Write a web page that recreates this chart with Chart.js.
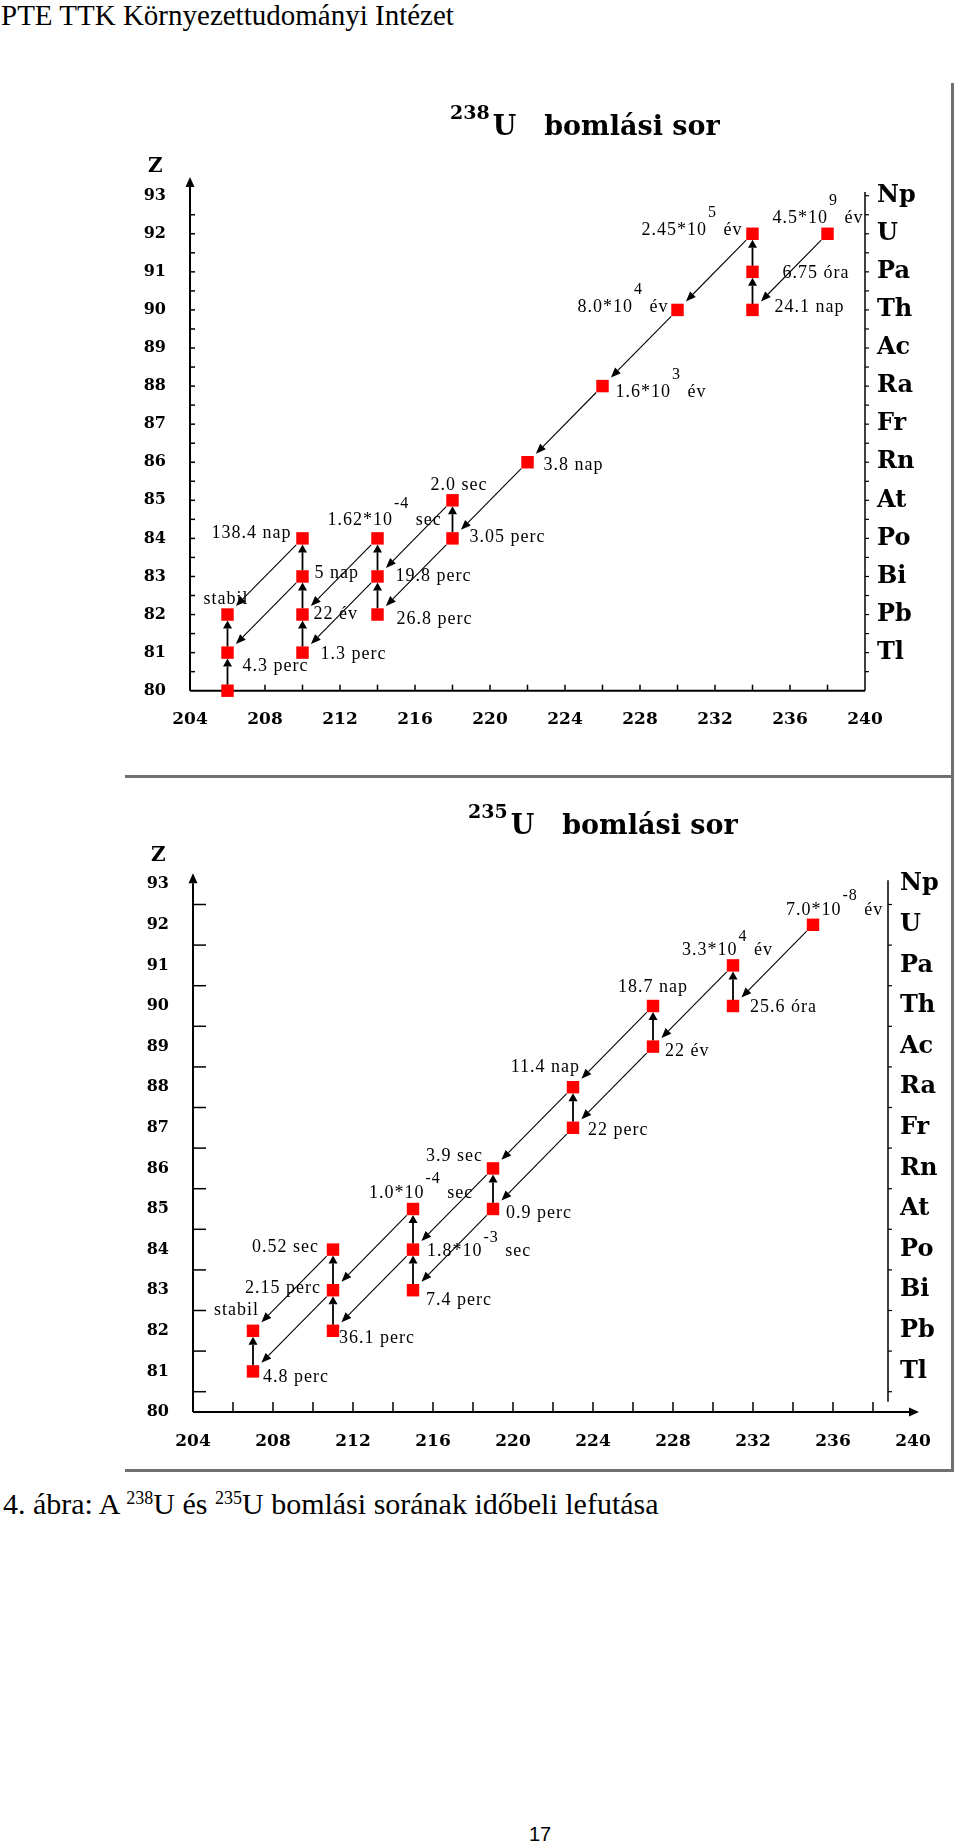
<!DOCTYPE html>
<html lang="hu">
<head>
<meta charset="utf-8">
<title>U bomlási sor</title>
<script src="https://cdn.jsdelivr.net/npm/chart.js@4/dist/chart.umd.min.js"></script>
<style>
  body { margin: 0; width: 960px; height: 1848px; position: relative; background: #fff; overflow: hidden; }
  .t { position: absolute; white-space: nowrap; color: #000; }
  .serif { font-family: "Liberation Serif", "Times New Roman", serif; }
  .title { font-family: "DejaVu Serif", serif; font-weight: bold; font-size: 27px; line-height: 27px; z-index: 2; }
  .title .sup { font-size: 19px; position: relative; top: -16px; margin-right: 3px; }
  .csup { font-size: 18px; position: relative; top: -10px; }
  .zlab { font-family: "DejaVu Serif", serif; font-weight: bold; font-size: 20px; line-height: 20px; z-index: 2; }
  .frame { position: absolute; background: #707070; }
  canvas { position: absolute; left: 0; }
</style>
</head>
<body>
<div class="t serif" style="left:1px;top:1px;font-size:29px;line-height:29px">PTE TTK Környezettudományi Intézet</div>

<div class="frame" style="left:951px;top:83px;width:3px;height:694px"></div>
<div class="frame" style="left:125px;top:775px;width:829px;height:3px"></div>
<div class="frame" style="left:951px;top:775px;width:3px;height:697px"></div>
<div class="frame" style="left:125px;top:1469px;width:829px;height:3px"></div>

<canvas id="c238" width="960" height="770" style="top:0"></canvas>
<canvas id="c235" width="960" height="690" style="top:780px"></canvas>

<div class="t title" style="left:450px;top:112px"><span class="sup">238</span>U<span style="margin-left:28px">bomlási sor</span></div>
<div class="t zlab" style="left:148px;top:155px">Z</div>

<div class="t title" style="left:468px;top:811px"><span class="sup">235</span>U<span style="margin-left:28px">bomlási sor</span></div>
<div class="t zlab" style="left:151px;top:844px">Z</div>

<div class="t serif" style="left:3px;top:1489px;font-size:30px;line-height:30px">4. ábra: A <span class="csup">238</span>U és <span class="csup">235</span>U bomlási sorának időbeli lefutása</div>
<div class="t" style="left:520px;width:40px;text-align:center;top:1824px;font-family:'Liberation Sans',sans-serif;font-size:20px;line-height:20px">17</div>

<script>
// axis ticks
const massTicks = [204, 208, 212, 216, 220, 224, 228, 232, 236, 240];
const zTicks = [80, 81, 82, 83, 84, 85, 86, 87, 88, 89, 90, 91, 92, 93];
const elementSymbols = ['', 'Tl', 'Pb', 'Bi', 'Po', 'At', 'Rn', 'Fr', 'Ra', 'Ac', 'Th', 'Pa', 'U', 'Np'];

// 238U decay series
const u238Names = ['U-238', 'Th-234', 'Pa-234', 'U-234', 'Th-230', 'Ra-226', 'Rn-222', 'Po-218', 'At-218', 'Pb-214',
  'Bi-214', 'Po-214', 'Tl-210', 'Pb-210', 'Bi-210', 'Po-210', 'Hg-206', 'Tl-206', 'Pb-206'];
const u238Mass = [238, 234, 234, 234, 230, 226, 222, 218, 218, 214, 214, 214, 210, 210, 210, 210, 206, 206, 206];
const u238Z = [92, 90, 91, 92, 90, 88, 86, 84, 85, 82, 83, 84, 81, 82, 83, 84, 80, 81, 82];
const u238HalfLife = ['4.5*10^9 év', '24.1 nap', '6.75 óra', '2.45*10^5 év', '8.0*10^4 év', '1.6*10^3 év', '3.8 nap',
  '3.05 perc', '2.0 sec', '26.8 perc', '19.8 perc', '1.62*10^-4 sec', '1.3 perc', '22 év', '5 nap', '138.4 nap', '',
  '4.3 perc', 'stabil'];
const u238Decays = [
  ['U-238', 'Th-234'], ['Th-234', 'Pa-234'], ['Pa-234', 'U-234'], ['U-234', 'Th-230'], ['Th-230', 'Ra-226'],
  ['Ra-226', 'Rn-222'], ['Rn-222', 'Po-218'], ['Po-218', 'At-218'], ['Po-218', 'Pb-214'], ['At-218', 'Bi-214'],
  ['Pb-214', 'Bi-214'], ['Bi-214', 'Po-214'], ['Bi-214', 'Tl-210'], ['Po-214', 'Pb-210'], ['Tl-210', 'Pb-210'],
  ['Pb-210', 'Bi-210'], ['Bi-210', 'Po-210'], ['Bi-210', 'Tl-206'], ['Po-210', 'Pb-206'], ['Hg-206', 'Tl-206'],
  ['Tl-206', 'Pb-206']
];

// 235U decay series
const u235Names = ['U-235', 'Th-231', 'Pa-231', 'Ac-227', 'Th-227', 'Fr-223', 'Ra-223', 'At-219', 'Rn-219', 'Bi-215',
  'Po-215', 'At-215', 'Pb-211', 'Bi-211', 'Po-211', 'Tl-207', 'Pb-207'];
const u235Mass = [235, 231, 231, 227, 227, 223, 223, 219, 219, 215, 215, 215, 211, 211, 211, 207, 207];
const u235Z = [92, 90, 91, 89, 90, 87, 88, 85, 86, 83, 84, 85, 82, 83, 84, 81, 82];
const u235HalfLife = ['7.0*10^-8 év', '25.6 óra', '3.3*10^4 év', '22 év', '18.7 nap', '22 perc', '11.4 nap', '0.9 perc',
  '3.9 sec', '7.4 perc', '1.8*10^-3 sec', '1.0*10^-4 sec', '36.1 perc', '2.15 perc', '0.52 sec', '4.8 perc', 'stabil'];
const u235Decays = [
  ['U-235', 'Th-231'], ['Th-231', 'Pa-231'], ['Pa-231', 'Ac-227'], ['Ac-227', 'Th-227'], ['Ac-227', 'Fr-223'],
  ['Th-227', 'Ra-223'], ['Fr-223', 'Ra-223'], ['Ra-223', 'Rn-219'], ['Fr-223', 'At-219'], ['At-219', 'Rn-219'],
  ['Rn-219', 'Po-215'], ['At-219', 'Bi-215'], ['Bi-215', 'Po-215'], ['Po-215', 'At-215'], ['At-215', 'Bi-211'],
  ['Po-215', 'Pb-211'], ['Pb-211', 'Bi-211'], ['Bi-211', 'Po-211'], ['Po-211', 'Pb-207'], ['Bi-211', 'Tl-207'],
  ['Tl-207', 'Pb-207']
];

// where each half-life text sits next to its square: [dx, dy, align]
const u238LabelPos = [[-55, -16, 'left'], [22, -3, 'left'], [30, 1, 'left'], [-9, -4, 'right'], [-8, -3, 'right'],
  [13, 6, 'left'], [16, 3, 'left'], [17, -1, 'left'], [-22, -15, 'left'], [19, 5, 'left'], [18, 0, 'left'],
  [-50, -18, 'left'], [18, 2, 'left'], [11, 0, 'left'], [12, -3, 'left'], [-10, -5, 'right'], [0, 0, 'left'],
  [15, 14, 'left'], [-24, -15, 'left']];
const u235LabelPos = [[-27, -15, 'left'], [17, 1, 'left'], [-51, -15, 'left'], [12, 5, 'left'], [-35, -19, 'left'],
  [15, 2, 'left'], [8, -20, 'right'], [13, 4, 'left'], [-9, -12, 'right'], [13, 10, 'left'], [14, 2, 'left'],
  [-44, -16, 'left'], [6, 7, 'left'], [-11, -2, 'right'], [-13, -2, 'right'], [10, 6, 'left'], [7, -21, 'right']];

function line(ctx, x1, y1, x2, y2, lw) {
  ctx.lineWidth = lw;
  ctx.beginPath(); ctx.moveTo(x1, y1); ctx.lineTo(x2, y2); ctx.stroke();
}

function arrow(ctx, x1, y1, x2, y2, len, half, lw) {
  const a = Math.atan2(y2 - y1, x2 - x1);
  const bx = x2 - len * Math.cos(a), by = y2 - len * Math.sin(a);
  line(ctx, x1, y1, bx, by, lw);
  ctx.beginPath();
  ctx.moveTo(x2, y2);
  ctx.lineTo(bx + half * Math.sin(a), by - half * Math.cos(a));
  ctx.lineTo(bx - half * Math.sin(a), by + half * Math.cos(a));
  ctx.closePath(); ctx.fill();
}

// text like "2.45*10^5 év": exponent raised above the line
function drawHalfLife(ctx, text, x, y, align, raise) {
  const main = '18px "Liberation Serif"', small = '16px "Liberation Serif"';
  const m = text.match(/^(.*?)\^(\S+)(.*)$/);
  const parts = m ? [[m[1], main, 0], [m[2], small, raise], [m[3], main, 0]] : [[text, main, 0]];
  let total = 0;
  parts.forEach(p => { ctx.font = p[1]; p.push(ctx.measureText(p[0]).width); total += p[3] + 1; });
  let cx = align === 'right' ? x - total : x;
  parts.forEach(p => { ctx.font = p[1]; ctx.fillText(p[0], cx, y - p[2]); cx += p[3] + 1; });
}

function makeDecayPlugin(d, look) {
  return {
    id: 'decay',
    beforeDatasetsDraw(chart) {
      const { ctx, scales: { x, y } } = chart;
      const px = v => x.getPixelForValue(v), py = v => y.getPixelForValue(v);
      ctx.save();
      ctx.strokeStyle = '#000'; ctx.fillStyle = '#000';
      // axes
      arrow(ctx, px(204), py(80), px(204), py(look.yTip), 10, 4.5, 2);
      if (look.xTip) arrow(ctx, px(204), py(80), px(look.xTip), py(80), 10, 4.5, 2);
      else line(ctx, px(204), py(80), px(look.rightAt), py(80), 2);
      line(ctx, px(look.rightAt), py(look.rightBottom), px(look.rightAt), py(look.rightTop), 1.5);
      for (let v = 80.5; v <= 93; v += 0.5) {
        if (look.yTickHalfOnly && v % 1 === 0) continue;
        if (v < 93) line(ctx, px(204), py(v), px(204) + look.yTickLen, py(v), 1.5);
        line(ctx, px(look.rightAt), py(v), px(look.rightAt) + 4, py(v), 1.2);
      }
      for (let v = 206; v < look.rightAt; v += 2) {
        line(ctx, px(v), py(80), px(v), py(80) - look.xTickLen, 1.5);
      }
      // decay arrows
      d.decays.forEach(([from, to]) => {
        const i = d.names.indexOf(from), j = d.names.indexOf(to);
        const x1 = px(d.mass[i]), y1 = py(d.z[i]), x2 = px(d.mass[j]), y2 = py(d.z[j]);
        if (d.mass[i] === d.mass[j]) {
          arrow(ctx, x1, y1 - 6, x2, y2 + 6, 8, 4.5, 1.8);
        } else {
          const dist = Math.hypot(x2 - x1, y2 - y1), ux = (x2 - x1) / dist, uy = (y2 - y1) / dist;
          arrow(ctx, x1 + ux * 9, y1 + uy * 9, x2 - ux * 12, y2 - uy * 12, 10, 4, 1.1);
        }
      });
      ctx.restore();
    },
    afterDatasetsDraw(chart) {
      const { ctx, scales: { x, y } } = chart;
      ctx.save();
      ctx.fillStyle = '#000';
      ctx.textBaseline = 'middle';
      ctx.textAlign = 'left';
      ctx.letterSpacing = '1px';
      d.halfLife.forEach((t, i) => {
        if (!t) return;
        const [dx, dy, align] = d.labelPos[i];
        drawHalfLife(ctx, t, x.getPixelForValue(d.mass[i]) + dx, y.getPixelForValue(d.z[i]) + dy, align, look.raise);
      });
      ctx.restore();
    }
  };
}

function buildChart(canvasId, d, look) {
  const points = d.mass.map((m, i) => ({ x: m, y: d.z[i] }));
  const bold = size => ({ family: 'DejaVu Serif', weight: 'bold', size });
  const noGrid = { display: false, drawTicks: false };
  const zFromTicks = s => { s.ticks = zTicks.map(v => ({ value: v })); };
  return new Chart(document.getElementById(canvasId), {
    type: 'scatter',
    data: {
      datasets: [{
        data: points,
        pointStyle: 'rect',
        pointRadius: 8.8,
        backgroundColor: '#ff0000',
        borderWidth: 0,
        clip: false
      }]
    },
    options: {
      responsive: false,
      animation: false,
      events: [],
      layout: { padding: look.padding },
      plugins: { legend: { display: false }, tooltip: { enabled: false } },
      scales: {
        x: {
          type: 'linear', min: 204, max: look.xMax,
          grid: noGrid, border: { display: false },
          afterBuildTicks: s => { s.ticks = massTicks.map(v => ({ value: v })); },
          afterFit: s => { s.height = 50; },
          ticks: { padding: 19, color: '#000', font: bold(17), maxRotation: 0, autoSkip: false }
        },
        y: {
          min: 80, max: 93,
          grid: noGrid, border: { display: false },
          afterBuildTicks: zFromTicks,
          afterFit: s => { s.width = 60; },
          ticks: { padding: 24, color: '#000', font: bold(16), autoSkip: false }
        },
        y2: {
          position: 'right', min: 80, max: 93,
          grid: noGrid, border: { display: false },
          afterBuildTicks: zFromTicks,
          afterFit: s => { s.width = 60; },
          ticks: {
            padding: 12, color: '#000', font: bold(24), autoSkip: false,
            callback: v => elementSymbols[zTicks.indexOf(v)]
          }
        }
      }
    },
    plugins: [makeDecayPlugin(d, look)]
  });
}

buildChart('c238',
  { names: u238Names, mass: u238Mass, z: u238Z, halfLife: u238HalfLife, decays: u238Decays, labelPos: u238LabelPos },
  { padding: { left: 130, right: 35, top: 195.7, bottom: 29.3 }, xMax: 240,
    yTip: 93.49, xTip: null, rightAt: 240, rightBottom: 80, rightTop: 93.1,
    yTickLen: 5, yTickHalfOnly: false, xTickLen: 6, raise: 17 });

// the element axis of the lower panel stands a little left of 240
buildChart('c235',
  { names: u235Names, mass: u235Mass, z: u235Z, halfLife: u235HalfLife, decays: u235Decays, labelPos: u235LabelPos },
  { padding: { left: 133, right: 12, top: 104.2, bottom: 8 }, xMax: 238.75,
    yTip: 93.27, xTip: 240.3, rightAt: 238.75, rightBottom: 80.25, rightTop: 93.1,
    yTickLen: 13, yTickHalfOnly: true, xTickLen: 10, raise: 14 });
</script>
</body>
</html>
